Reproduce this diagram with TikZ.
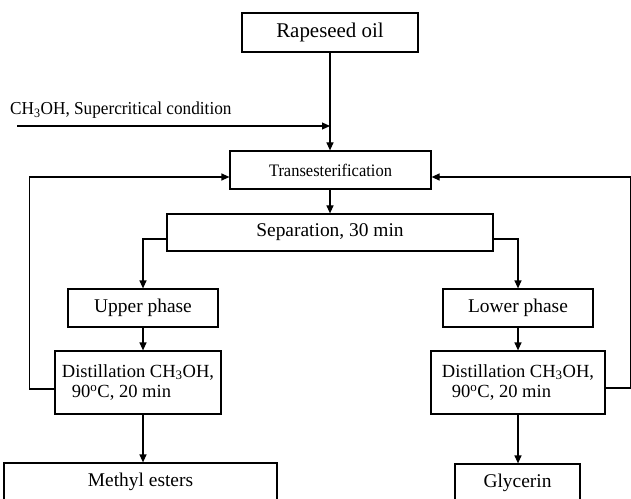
\documentclass[tikz,border=0pt]{standalone}
\usepackage{fontspec}
\setmainfont{Liberation Serif}
\usetikzlibrary{arrows.meta}
\begin{document}
\begin{tikzpicture}[x=1bp,y=-1bp,
  box/.style={draw, line width=1.2bp, inner sep=0pt, align=center,
    font=\fontsize{19.5}{21}\selectfont},
  conn/.style={line width=1.2bp, -{Triangle[length=8bp,width=7bp]}},
  plainline/.style={line width=1.2bp}]
\useasboundingbox (0,0) rectangle (631,499);
% boxes
\node[box, minimum width=176bp, minimum height=39bp,
  font=\fontsize{21}{23}\selectfont] (rape) at (330,32.5) {Rapeseed oil};
\node[box, minimum width=201bp, minimum height=38bp,
  font=\fontsize{17.6}{19}\selectfont] (trans) at (330.5,170) {\scalebox{0.94}[1]{Transesterification}};
\node[box, minimum width=326bp, minimum height=37bp] (sep) at (330,232.5) {Separation, 30 min};
\node[box, minimum width=150bp, minimum height=38bp] (upper) at (143,308) {Upper phase};
\node[box, minimum width=150bp, minimum height=38bp] (lower) at (518,308) {Lower phase};
\node[box, minimum width=166bp, minimum height=63bp, align=left,
  font=\fontsize{18.6}{21}\selectfont] (distL) at (138,382.5)
  {Distillation CH\textsubscript{3}OH,\\\hspace{10bp}90\textsuperscript{o}C, 20 min};
\node[box, minimum width=174bp, minimum height=63bp, align=left,
  font=\fontsize{18.6}{21}\selectfont] (distR) at (518,382.5)
  {Distillation CH\textsubscript{3}OH,\\\hspace{10bp}90\textsuperscript{o}C, 20 min};
\node[box, minimum width=273bp, minimum height=38bp] (methyl) at (140.5,482) {Methyl esters};
\node[box, minimum width=125bp, minimum height=38bp] (glyc) at (517.5,483) {Glycerin};
% feed label
\node[anchor=base west, inner sep=0pt, font=\fontsize{18.3}{20}\selectfont] (feed) at (10,115)
  {\scalebox{0.945}[1]{CH\textsubscript{3}OH, Supercritical condition}};
\coordinate (feedstart) at (17,126);
\coordinate (feedend) at (330,126);
% connectors
\draw[conn] (rape.south) -- (trans.north -| rape.south);
\draw[conn] (feedstart) -- (feedend);
\draw[conn] (trans.south -| sep.north) -- (sep.north);
\draw[conn] ([yshift=-6.5bp]sep.west) -| (upper.north);
\draw[conn] ([yshift=-6.5bp]sep.east) -| (lower.north);
\draw[conn] (upper.south) -- (upper.south |- distL.north);
\draw[conn] (lower.south) -- (lower.south |- distR.north);
\draw[conn] (distL.south -| upper.south) -- (methyl.north -| upper.south);
\draw[conn] (distR.south -| lower.south) -- (glyc.north -| lower.south);
\draw[conn] ([yshift=-6.5bp]distL.west) -- ++(-25,0) |- ([yshift=-7bp]trans.west);
\draw[conn] ([yshift=-5.5bp]distR.east) -- ++(25,0) |- ([yshift=-7bp]trans.east);
\end{tikzpicture}
\end{document}
